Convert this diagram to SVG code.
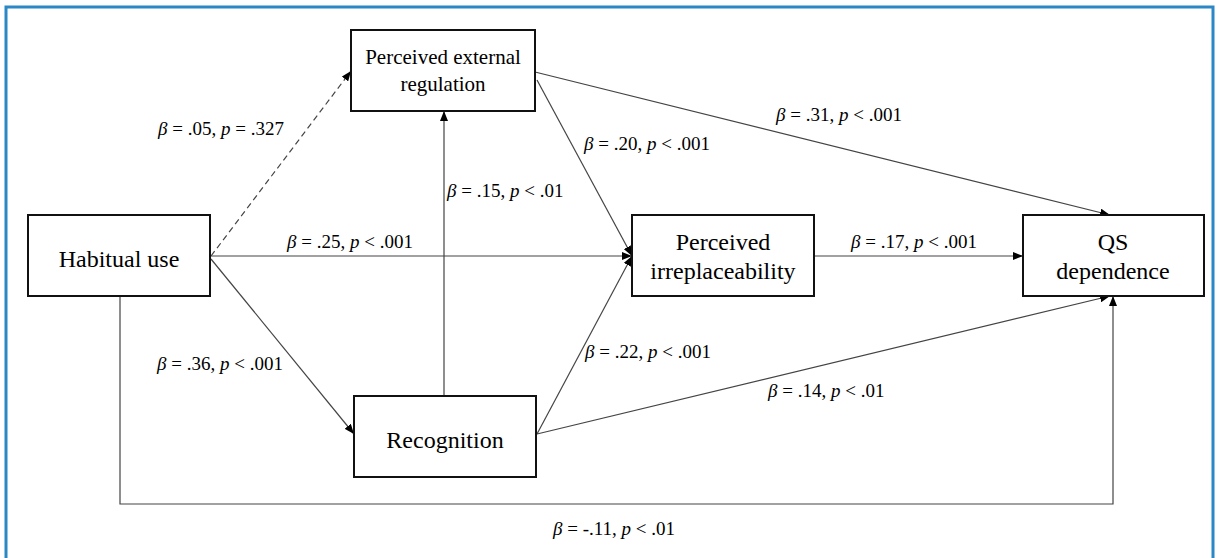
<svg xmlns="http://www.w3.org/2000/svg" width="1220" height="558" viewBox="0 0 1220 558">
<style>
.box{fill:#fff;stroke:#111;stroke-width:2}
.nt{font-family:"Liberation Serif","Times New Roman",serif;font-size:24px;fill:#000;text-anchor:middle}
.nt2{font-family:"Liberation Serif","Times New Roman",serif;font-size:21px;fill:#000;text-anchor:middle}
.lb{font-family:"Liberation Serif","Times New Roman",serif;font-size:19px;fill:#000}
.ln{fill:none;stroke:#444;stroke-width:1.2;marker-end:url(#ah)}
.it{font-style:italic}
</style>
<defs>
<marker id="ah" markerUnits="userSpaceOnUse" markerWidth="11" markerHeight="8" refX="10" refY="4" orient="auto">
<path d="M0,0 L10,4 L0,8 z" fill="#000"/>
</marker>
</defs>
<rect width="1220" height="558" fill="#fff"/>
<path d="M6,560 V7 H1213 V560" fill="none" stroke="#2b87c5" stroke-width="3"/>
<g id="connectors">
<line class="ln" x1="211" y1="256" x2="351" y2="71" stroke-dasharray="6,4"/>
<line class="ln" x1="210" y1="256" x2="632" y2="256"/>
<line class="ln" x1="211" y1="259" x2="354" y2="434"/>
<line class="ln" x1="444" y1="396" x2="444" y2="111"/>
<line class="ln" x1="537" y1="80" x2="632" y2="256"/>
<line class="ln" x1="535" y1="72" x2="1110" y2="215"/>
<line class="ln" x1="814" y1="256" x2="1023" y2="256"/>
<line class="ln" x1="537" y1="434" x2="632" y2="256"/>
<line class="ln" x1="537" y1="434" x2="1110" y2="296"/>
<path class="ln" d="M120,296 V504 H1113 V296"/>
</g>
<g id="labels">
<text class="lb" x="158" y="135"><tspan class="it">β</tspan> = .05, <tspan class="it">p</tspan> = .327</text>
<text class="lb" x="447" y="197"><tspan class="it">β</tspan> = .15, <tspan class="it">p</tspan> &lt; .01</text>
<text class="lb" x="287" y="248"><tspan class="it">β</tspan> = .25, <tspan class="it">p</tspan> &lt; .001</text>
<text class="lb" x="584" y="150"><tspan class="it">β</tspan> = .20, <tspan class="it">p</tspan> &lt; .001</text>
<text class="lb" x="776" y="121"><tspan class="it">β</tspan> = .31, <tspan class="it">p</tspan> &lt; .001</text>
<text class="lb" x="851" y="248"><tspan class="it">β</tspan> = .17, <tspan class="it">p</tspan> &lt; .001</text>
<text class="lb" x="157" y="370"><tspan class="it">β</tspan> = .36, <tspan class="it">p</tspan> &lt; .001</text>
<text class="lb" x="585" y="358"><tspan class="it">β</tspan> = .22, <tspan class="it">p</tspan> &lt; .001</text>
<text class="lb" x="768" y="397"><tspan class="it">β</tspan> = .14, <tspan class="it">p</tspan> &lt; .01</text>
<text class="lb" x="553" y="535"><tspan class="it">β</tspan> = -.11, <tspan class="it">p</tspan> &lt; .01</text>
</g>
<g id="habitual">
<rect class="box" x="28" y="215" width="182" height="81"/>
<text class="nt" x="119" y="267">Habitual use</text>
</g>
<g id="external">
<rect class="box" x="351" y="30" width="184" height="81"/>
<text class="nt2" x="443" y="64">Perceived external</text>
<text class="nt2" x="443" y="91">regulation</text>
</g>
<g id="recognition">
<rect class="box" x="354" y="396" width="182" height="81"/>
<text class="nt" x="445" y="448">Recognition</text>
</g>
<g id="irreplaceability">
<rect class="box" x="632" y="215" width="182" height="81"/>
<text class="nt" x="723" y="250">Perceived</text>
<text class="nt" x="723" y="279">irreplaceability</text>
</g>
<g id="qs">
<rect class="box" x="1023" y="215" width="181" height="81"/>
<text class="nt" x="1113" y="250">QS</text>
<text class="nt" x="1113" y="279">dependence</text>
</g>
</svg>
